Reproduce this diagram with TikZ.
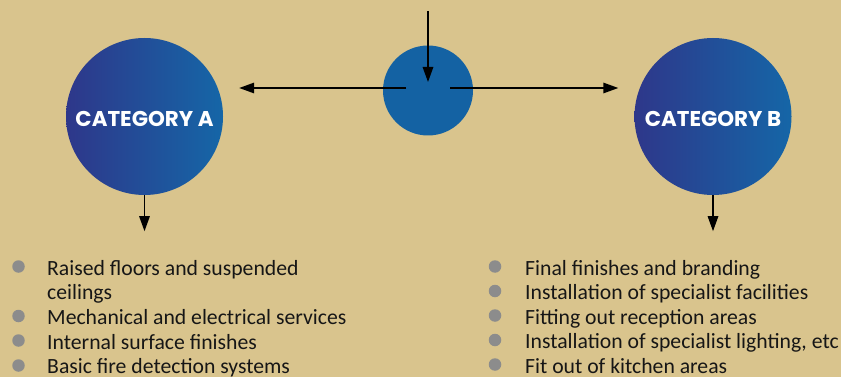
\documentclass[tikz,border=0pt]{standalone}
\usepackage{fontspec}
\setmainfont{Carlito}
\newfontfamily\catfont{Poppins}
\usetikzlibrary{arrows.meta,calc}

\definecolor{sand}{RGB}{217,196,141}
\definecolor{hubblue}{RGB}{20,98,163}
\definecolor{catleft}{RGB}{46,55,138}
\definecolor{catright}{RGB}{21,102,167}
\definecolor{dotgray}{RGB}{140,140,140}
\definecolor{ink}{RGB}{22,22,22}

\tikzset{
  hubnode/.style={circle, fill=hubblue, minimum size=90pt, inner sep=0pt},
  catnode/.style={circle, left color=catleft, right color=catright,
    minimum size=157pt, inner sep=0pt},
  cattitle/.style={inner sep=0pt, text=white,
    font=\catfont\bfseries\fontsize{21.4}{25}\selectfont},
  flow/.style={draw=black, line width=1.4pt,
    -{Triangle[length=15pt,width=10.5pt]}},
  bulletdot/.style={circle, fill=dotgray, minimum size=12.5pt, inner sep=0pt},
  itemtext/.style={anchor=base west, inner sep=0pt, text=ink, align=left,
    font=\fontsize{21.7}{24.6}\selectfont}
}

\begin{document}
\begin{tikzpicture}[x=1pt, y=-1pt]
  % canvas
  \fill[sand] (0,0) rectangle (841,377);
  \useasboundingbox (0,0) rectangle (841,377);

  % circles
  \node[hubnode] (hub) at (428,90.5) {};
  \node[catnode] (catA) at (144.5,116.5) {};
  \node[catnode] (catB) at (713,116.5) {};
  \node[cattitle] (titleA) at ($(catA.center)+(0,2)$) {CATEGORY A};
  \node[cattitle] (titleB) at ($(catB.center)+(0,2)$) {CATEGORY B};

  % connector end points
  \coordinate (src) at (428,11);
  \coordinate (hubIn) at ($(hub.center)+(0,-8.5)$);
  \coordinate (hubL) at ($(hub.center)+(-22,-2.5)$);
  \coordinate (hubR) at ($(hub.center)+(22,-2.5)$);
  \coordinate (toA) at ($(catA.east)+(16,-28.5)$);
  \coordinate (toB) at ($(catB.west)+(-16,-28.5)$);
  \coordinate (belowA) at ($(catA.south)+(0,36)$);
  \coordinate (belowB) at ($(catB.south)+(0,36)$);

  % connectors
  \draw[flow] (src) -- (hubIn);
  \draw[flow] (hubL) -- (toA);
  \draw[flow] (hubR) -- (toB);
  \draw[flow] (catA.south) -- (belowA);
  \draw[flow] (catB.south) -- (belowB);

  % list for category A (the two-line item is placed by its last baseline)
  \node[bulletdot] (a1) at (18.5,266.5) {};
  \node[itemtext] (ta1) at (47,299.6) {Raised floors and suspended\\ceilings};
  \node[bulletdot] (a2) at (18.5,316) {};
  \node[itemtext] (ta2) at (47,324.6) {Mechanical and electrical services};
  \node[bulletdot] (a3) at (18.5,340.5) {};
  \node[itemtext] (ta3) at (47,349.2) {Internal surface finishes};
  \node[bulletdot] (a4) at (18.5,365.5) {};
  \node[itemtext] (ta4) at (47,373.8) {Basic fire detection systems};

  % list for category B
  \node[bulletdot] (b1) at (495,266.5) {};
  \node[itemtext] (tb1) at (525,275) {Final finishes and branding};
  \node[bulletdot] (b2) at (495,291) {};
  \node[itemtext] (tb2) at (525,299.6) {Installation of specialist facilities};
  \node[bulletdot] (b3) at (495,315.5) {};
  \node[itemtext] (tb3) at (525,324.2) {Fitting out reception areas};
  \node[bulletdot] (b4) at (495,340) {};
  \node[itemtext] (tb4) at (525,348.8) {Installation of specialist lighting, etc};
  \node[bulletdot] (b5) at (495,364.5) {};
  \node[itemtext] (tb5) at (525,373.4) {Fit out of kitchen areas};
\end{tikzpicture}
\end{document}
